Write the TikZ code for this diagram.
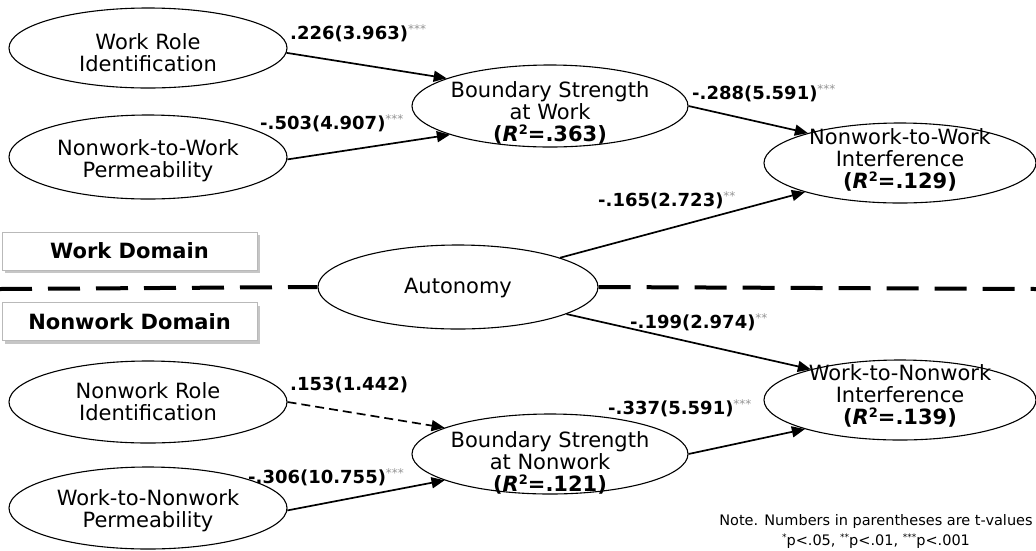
\documentclass[tikz,border=0pt]{standalone}
\usepackage{fontspec}
\setmainfont{DejaVu Sans}
\usetikzlibrary{shapes.geometric,arrows.meta,shadows}
\newcommand\sigstars[1]{\raisebox{6pt}{\mdseries\fontsize{12}{12}\selectfont\color{gray!85}#1}}
\newcommand\rsq[1]{{\fontsize{21}{22}\selectfont(\textit{R}\raisebox{7pt}{\fontsize{13}{13}\selectfont 2}=#1)}}
\newcommand\notestar[1]{\raisebox{5pt}{\fontsize{9}{9}\selectfont #1}}
\begin{document}
\begin{tikzpicture}[x=1pt,y=-1pt,
  ell/.style={draw, ellipse, line width=1.1pt, inner sep=0pt, fill=white},
  txt/.style={align=center, font=\fontsize{21}{22}\selectfont, inner sep=0pt},
  lbl/.style={anchor=west, font=\bfseries\fontsize{18}{20}\selectfont, inner sep=0pt},
  arr/.style={line width=1.7pt, -{Triangle[length=13pt,width=11pt]}},
  dom/.style={draw=gray!55, line width=1pt, fill=white, minimum width=255pt, minimum height=38pt,
    font=\bfseries\fontsize{21}{22}\selectfont,
    drop shadow={shadow xshift=3pt, shadow yshift=-3pt, fill=gray!45, opacity=1}},
  note/.style={align=center, font=\fontsize{14.5}{20}\selectfont, inner sep=0pt}
]
\useasboundingbox (0,0) rectangle (1036,550);

% divider
\coordinate (dl) at (0,289);
\coordinate (dr) at (1036,289);

% ellipses
\node[ell, minimum width=278pt, minimum height=80pt] (wri) at (148,48) {};
\node[ell, minimum width=278pt, minimum height=84pt] (nwp) at (148,157) {};
\node[ell, minimum width=276pt, minimum height=82pt] (bsw) at (550,106) {};
\node[ell, minimum width=272pt, minimum height=80pt] (nwi) at (900,163) {};
\node[ell, minimum width=280pt, minimum height=84pt] (aut) at (458,287) {};
\node[ell, minimum width=278pt, minimum height=82pt] (nri) at (148,402) {};
\node[ell, minimum width=278pt, minimum height=82pt] (wnp) at (148,508) {};
\node[ell, minimum width=276pt, minimum height=80pt] (bsnw) at (550,454) {};
\node[ell, minimum width=272pt, minimum height=80pt] (wni) at (900,400) {};

\draw[line width=4pt, dash pattern=on 32pt off 16pt] (dl) -- (aut.west);
\draw[line width=4pt, dash pattern=on 32pt off 16pt] (aut.east) -- (dr);

% texts
\node[txt] (writ) at (148,53) {Work Role\\Identification};
\node[txt] (nwpt) at (148,161) {Nonwork-to-Work\\Permeability};
\node[txt] (bswt) at (550,113) {Boundary Strength\\at Work\\\textbf{\rsq{.363}}};
\node[txt] (nwit) at (900,160) {Nonwork-to-Work\\Interference\\\textbf{\rsq{.129}}};
\node[txt] (autt) at (458,288) {Autonomy};
\node[txt] (nrit) at (148,402) {Nonwork Role\\Identification};
\node[txt] (wnpt) at (148,511) {Work-to-Nonwork\\Permeability};
\node[txt] (bsnwt) at (550,463) {Boundary Strength\\at Nonwork\\\textbf{\rsq{.121}}};
\node[txt] (wnit) at (900,396) {Work-to-Nonwork\\Interference\\\textbf{\rsq{.139}}};

% domain boxes
\node[dom] (wdom) at (129.5,251) {Work Domain};
\node[dom] (ndom) at (129.5,321.5) {Nonwork Domain};

% arrows
\draw[arr] (wri.-2) -- (bsw.165);
\draw[arr] (nwp.-1) -- (bsw.196);
\draw[arr] (bsw.east) -- (nwi.162);
\draw[arr] (aut.16) -- (nwi.197);
\draw[arr] (aut.-14) -- (wni.161);
\draw[arr] (bsnw.east) -- (wni.197);
\draw[arr, dash pattern=on 9pt off 5pt] (nri.east) -- (bsnw.166);
\draw[arr] (wnp.-1) -- (bsnw.194);

% labels
\node[lbl] (l1) at (290,33) {.226(3.963)\sigstars{***}};
\node[lbl] (l2) at (260,123) {-.503(4.907)\sigstars{***}};
\node[lbl] (l3) at (692,93) {-.288(5.591)\sigstars{***}};
\node[lbl] (l4) at (598,200) {-.165(2.723)\sigstars{**}};
\node[lbl] (l5) at (630,322) {-.199(2.974)\sigstars{**}};
\node[lbl] (l6) at (608,408) {-.337(5.591)\sigstars{***}};
\node[lbl] (l7) at (290,385) {.153(1.442)};
\node[lbl] (l8) at (248,477) {-.306(10.755)\sigstars{***}};

% note
\node[note] (nt) at (876,531) {Note. Numbers in parentheses are t-values\\\notestar{*}p<.05, \notestar{**}p<.01, \notestar{***}p<.001};
\end{tikzpicture}
\end{document}
